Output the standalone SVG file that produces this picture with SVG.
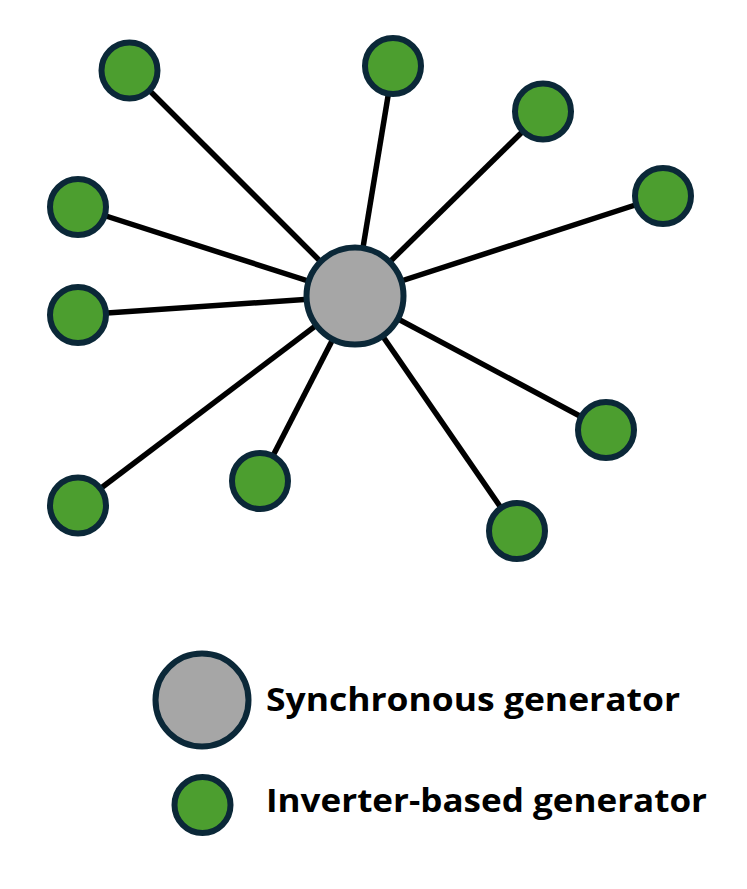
<svg xmlns="http://www.w3.org/2000/svg" width="747" height="889" viewBox="0 0 747 889">
<style>
.sg{fill:#A6A6A6;stroke:#0B2838;stroke-width:6}
.ib{fill:#4C9E2F;stroke:#0B2838;stroke-width:6}
.ln{stroke:#000;stroke-width:5.5;fill:none}
.lbl{font-family:"Open Sans","Liberation Sans",Arial,sans-serif;font-weight:bold;font-size:32px;fill:#000}
</style>
<rect width="747" height="889" fill="#fff"/>
<g id="connectors">
<line class="ln" x1="355" y1="296" x2="129.5" y2="70.5"/>
<line class="ln" x1="355" y1="296" x2="393" y2="66"/>
<line class="ln" x1="355" y1="296" x2="543" y2="111.5"/>
<line class="ln" x1="355" y1="296" x2="663" y2="196"/>
<line class="ln" x1="355" y1="296" x2="78" y2="207"/>
<line class="ln" x1="355" y1="296" x2="78" y2="315"/>
<line class="ln" x1="355" y1="296" x2="606" y2="430"/>
<line class="ln" x1="355" y1="296" x2="260" y2="481"/>
<line class="ln" x1="355" y1="296" x2="78" y2="505.5"/>
<line class="ln" x1="355" y1="296" x2="517" y2="531"/>
</g>
<g id="sync"><circle class="sg" cx="355" cy="296" r="48.5"/></g>
<g id="ibg1"><circle class="ib" cx="129.5" cy="70.5" r="28"/></g>
<g id="ibg2"><circle class="ib" cx="393" cy="66" r="28"/></g>
<g id="ibg3"><circle class="ib" cx="543" cy="111.5" r="28"/></g>
<g id="ibg4"><circle class="ib" cx="663" cy="196" r="28"/></g>
<g id="ibg5"><circle class="ib" cx="78" cy="207" r="28"/></g>
<g id="ibg6"><circle class="ib" cx="78" cy="315" r="28"/></g>
<g id="ibg7"><circle class="ib" cx="606" cy="430" r="28"/></g>
<g id="ibg8"><circle class="ib" cx="260" cy="481" r="28"/></g>
<g id="ibg9"><circle class="ib" cx="78" cy="505.5" r="28"/></g>
<g id="ibg10"><circle class="ib" cx="517" cy="531" r="28"/></g>
<g id="legend-sync">
<circle class="sg" cx="202" cy="700" r="46.5"/>
<text class="lbl" x="266" y="711" textLength="414" lengthAdjust="spacingAndGlyphs">Synchronous generator</text>
</g>
<g id="legend-ibg">
<circle class="ib" cx="202.5" cy="805" r="28"/>
<text class="lbl" x="266" y="812" textLength="441" lengthAdjust="spacingAndGlyphs">Inverter-based generator</text>
</g>
</svg>
